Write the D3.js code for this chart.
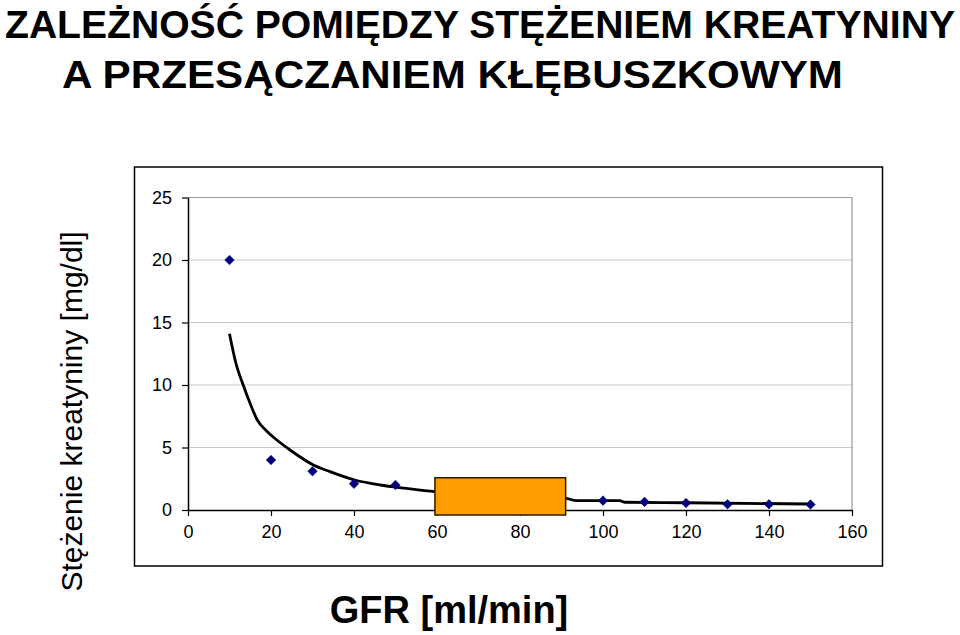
<!DOCTYPE html>
<html>
<head>
<meta charset="UTF-8">
<title>Zależność pomiędzy stężeniem kreatyniny a przesączaniem kłębuszkowym</title>
<script src="https://d3js.org/d3.v7.min.js"></script>
<style>
  body { margin: 0; background: #ffffff; }
  svg { display: block; font-family: "Liberation Sans", Arial, sans-serif; }
  .title { font-weight: bold; font-size: 39px; fill: #000; text-anchor: middle; }
  .grid { stroke: #c8c8c8; stroke-width: 1px; }
  .curve { fill: none; stroke: #000; stroke-width: 2.8px; stroke-linejoin: round; }
</style>
</head>
<body>
<div id="chart"></div>
<script>
// dane
const gfrValues = [10, 20, 30, 40, 50, 100, 110, 120, 130, 140, 150];
const creatinineValues = [20, 4.0, 3.1, 2.1, 2.0, 0.75, 0.65, 0.56, 0.46, 0.46, 0.44];

// linia trendu
const curveGfr = [10, 11.5, 13.3, 15, 16.7, 19, 21.4, 24.6, 30.2, 34.2, 40.2, 46.3, 52.7, 59.5, 75, 91, 93.6, 104, 105.3, 120, 150];
const curveCreat = [14.1, 11.8, 10, 8.5, 7.2, 6.3, 5.6, 4.8, 3.6, 3.07, 2.4, 2.0, 1.73, 1.47, 1.15, 0.93, 0.75, 0.75, 0.62, 0.58, 0.48];

// pomarańczowy prostokąt (zakres GFR i stężenia)
const boxGfr = [59.5, 91];
const boxCreat = [-0.4, 2.58];

const xTicks = [0, 20, 40, 60, 80, 100, 120, 140, 160];
const yTicks = [0, 5, 10, 15, 20, 25];

const titleLines = ["ZALEŻNOŚĆ POMIĘDZY STĘŻENIEM KREATYNINY", "A PRZESĄCZANIEM KŁĘBUSZKOWYM"];

const width = 960, height = 635;
const plot = {left: 188, right: 852, top: 197.5, bottom: 510};

const svg = d3.select("#chart").append("svg")
    .attr("width", width)
    .attr("height", height);

// tytuł
svg.append("text").attr("class", "title")
    .attr("x", 480).attr("y", 38)
    .attr("textLength", 950).attr("lengthAdjust", "spacingAndGlyphs")
    .text(titleLines[0]);
svg.append("text").attr("class", "title")
    .attr("x", 452.5).attr("y", 88)
    .attr("textLength", 781).attr("lengthAdjust", "spacingAndGlyphs")
    .text(titleLines[1]);

// ramka wykresu
svg.append("rect")
    .attr("x", 134.5).attr("y", 167)
    .attr("width", 748).attr("height", 399)
    .attr("fill", "none").attr("stroke", "#000").attr("stroke-width", 1.5);

const x = d3.scaleLinear().domain([0, 160]).range([plot.left, plot.right]);
const y = d3.scaleLinear().domain([0, 25]).range([plot.bottom, plot.top]);

// linie siatki
svg.append("g").selectAll("line")
  .data(yTicks.filter(d => d > 0 && d < 25))
  .join("line")
    .attr("class", "grid")
    .attr("x1", plot.left).attr("x2", plot.right)
    .attr("y1", d => y(d)).attr("y2", d => y(d));

// obramowanie obszaru (góra i prawa)
svg.append("path")
    .attr("d", `M${plot.left},${y(25)}H${plot.right}V${plot.bottom}`)
    .attr("fill", "none").attr("stroke", "#999").attr("stroke-width", 1.2);

// osie
const xAxis = svg.append("g")
    .attr("transform", `translate(0,${plot.bottom})`)
    .call(d3.axisBottom(x).tickValues(xTicks).tickSize(6).tickPadding(9).tickSizeOuter(0));
const yAxis = svg.append("g")
    .attr("transform", `translate(${plot.left},0)`)
    .call(d3.axisLeft(y).tickValues(yTicks).tickSize(6).tickPadding(10).tickSizeOuter(0));

[xAxis, yAxis].forEach(g => {
  g.attr("font-family", null).attr("font-size", 18);
  g.select(".domain").attr("stroke", "#000").attr("stroke-width", 1.5);
  g.selectAll(".tick line").attr("stroke", "#000").attr("stroke-width", 1.2);
  g.selectAll(".tick text").attr("fill", "#000");
});

// krzywa
const curveData = curveGfr.map((g, i) => [g, curveCreat[i]]);
svg.append("path")
    .datum(curveData)
    .attr("class", "curve")
    .attr("d", d3.line().x(d => x(d[0])).y(d => y(d[1])).curve(d3.curveMonotoneX));

// punkty (romby)
const diamond = d3.symbol().type(d3.symbolSquare).size(46);
svg.append("g").selectAll("path")
  .data(gfrValues.map((g, i) => [g, creatinineValues[i]]))
  .join("path")
    .attr("d", diamond)
    .attr("transform", d => `translate(${x(d[0])},${y(d[1])}) rotate(45)`)
    .attr("fill", "#000080")
    .attr("stroke", "#000060").attr("stroke-width", 0.5);

// pomarańczowy prostokąt
svg.append("rect")
    .attr("x", x(boxGfr[0])).attr("y", y(boxCreat[1]))
    .attr("width", x(boxGfr[1]) - x(boxGfr[0]))
    .attr("height", y(boxCreat[0]) - y(boxCreat[1]))
    .attr("fill", "#ff9c00")
    .attr("stroke", "#2b1a00").attr("stroke-width", 1.5);

// etykiety osi
svg.append("text")
    .attr("x", 449).attr("y", 623)
    .attr("text-anchor", "middle")
    .attr("font-size", 38).attr("font-weight", "bold")
    .text("GFR [ml/min]");

svg.append("text")
    .attr("transform", "translate(82,411.5) rotate(-90)")
    .attr("text-anchor", "middle")
    .attr("font-size", 30)
    .text("Stężenie kreatyniny [mg/dl]");
</script>
</body>
</html>
